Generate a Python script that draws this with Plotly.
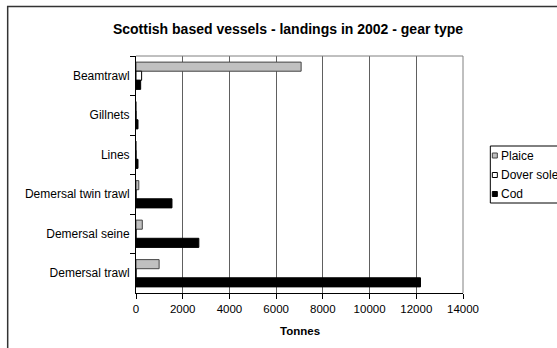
import plotly.graph_objects as go

categories = ["Beamtrawl", "Gillnets", "Lines", "Demersal twin trawl", "Demersal seine", "Demersal trawl"]
plaice = [7070, 0, 0, 120, 270, 990]
dover_sole = [240, 0, 0, 0, 0, 0]
cod = [200, 85, 85, 1540, 2690, 12180]
x_ticks = [0, 2000, 4000, 6000, 8000, 10000, 12000, 14000]
series_names = ["Plaice", "Dover sole", "Cod"]
series_fill = ["#C0C0C0", "#FFFFFF", "#000000"]
series_line = ["#444444", "#000000", "#000000"]

FONT = "Liberation Sans, Arial, sans-serif"

fig = go.Figure()
for name, vals, fc, lc in zip(series_names, [plaice, dover_sole, cod], series_fill, series_line):
    fig.add_trace(go.Bar(y=categories, x=vals, name=name, orientation="h",
                         marker=dict(color=fc, line=dict(color=lc, width=1))))

L, R, T, B = 136, 462.7, 56, 293
W, H = 557, 348

def px_x(p):
    return (p - L) / (R - L)

def px_y(p):
    return (B - p) / (B - T)

fig.update_layout(
    width=W, height=H,
    margin=dict(l=L, r=W - R, t=T, b=H - B, autoexpand=False),
    paper_bgcolor="white", plot_bgcolor="white",
    barmode="group", bargap=0.31, bargroupgap=0,
    font=dict(family=FONT, size=11.5, color="black"),
    title=dict(text="<b>Scottish based vessels - landings in 2002 - gear type</b>",
               x=288 / W, xanchor="center", xref="container",
               y=1 - 29 / H, yanchor="middle", yref="container",
               font=dict(size=14, family=FONT)),
    showlegend=False,
    xaxis=dict(range=[0, 14000], tickvals=x_ticks, ticktext=[str(v) for v in x_ticks],
               showgrid=True, gridcolor="#606060", gridwidth=1,
               showline=True, linecolor="black", linewidth=1,
               ticks="outside", ticklen=5, tickcolor="black",
               zeroline=False, automargin=False, fixedrange=True),
    yaxis=dict(autorange="reversed", type="category",
               showline=True, linecolor="black", linewidth=1,
               ticks="outside", ticklen=5, tickcolor="black", tickson="boundaries",
               tickfont=dict(size=12),
               showgrid=False, ticklabelstandoff=3, automargin=False, fixedrange=True),
)

# plot area frame top/right (gray)
fig.add_shape(type="line", xref="paper", yref="paper", x0=0, x1=1, y0=1, y1=1,
              line=dict(color="#808080", width=1))
fig.add_shape(type="line", xref="paper", yref="paper", x0=1, x1=1, y0=0, y1=1,
              line=dict(color="#808080", width=1))

# outer chart frame
fig.add_shape(type="rect", xref="paper", yref="paper",
              x0=px_x(7.8), x1=px_x(800), y0=px_y(600), y1=px_y(6.5),
              line=dict(color="#333333", width=1.5), layer="below")

# x axis title
fig.add_annotation(text="<b>Tonnes</b>", xref="paper", yref="paper",
                   x=0.5, y=px_y(331), xanchor="center", yanchor="middle",
                   showarrow=False, font=dict(size=11.5, family=FONT))

# legend (box, swatches, labels)
fig.add_shape(type="rect", xref="paper", yref="paper",
              x0=px_x(490), x1=px_x(700), y0=px_y(203), y1=px_y(146),
              line=dict(color="black", width=1), fillcolor="white")
legend_y = [155.5, 175, 194]
for name, fc, lc, ly in zip(series_names, series_fill, series_line, legend_y):
    fig.add_shape(type="rect", xref="paper", yref="paper",
                  x0=px_x(492), x1=px_x(497), y0=px_y(ly + 2.5), y1=px_y(ly - 2.5),
                  line=dict(color=lc, width=1), fillcolor=fc)
    fig.add_annotation(text=name, xref="paper", yref="paper",
                       x=px_x(498.5), y=px_y(ly), xanchor="left", yanchor="middle",
                       showarrow=False, font=dict(size=12, family=FONT))

fig.write_html("out.html")
